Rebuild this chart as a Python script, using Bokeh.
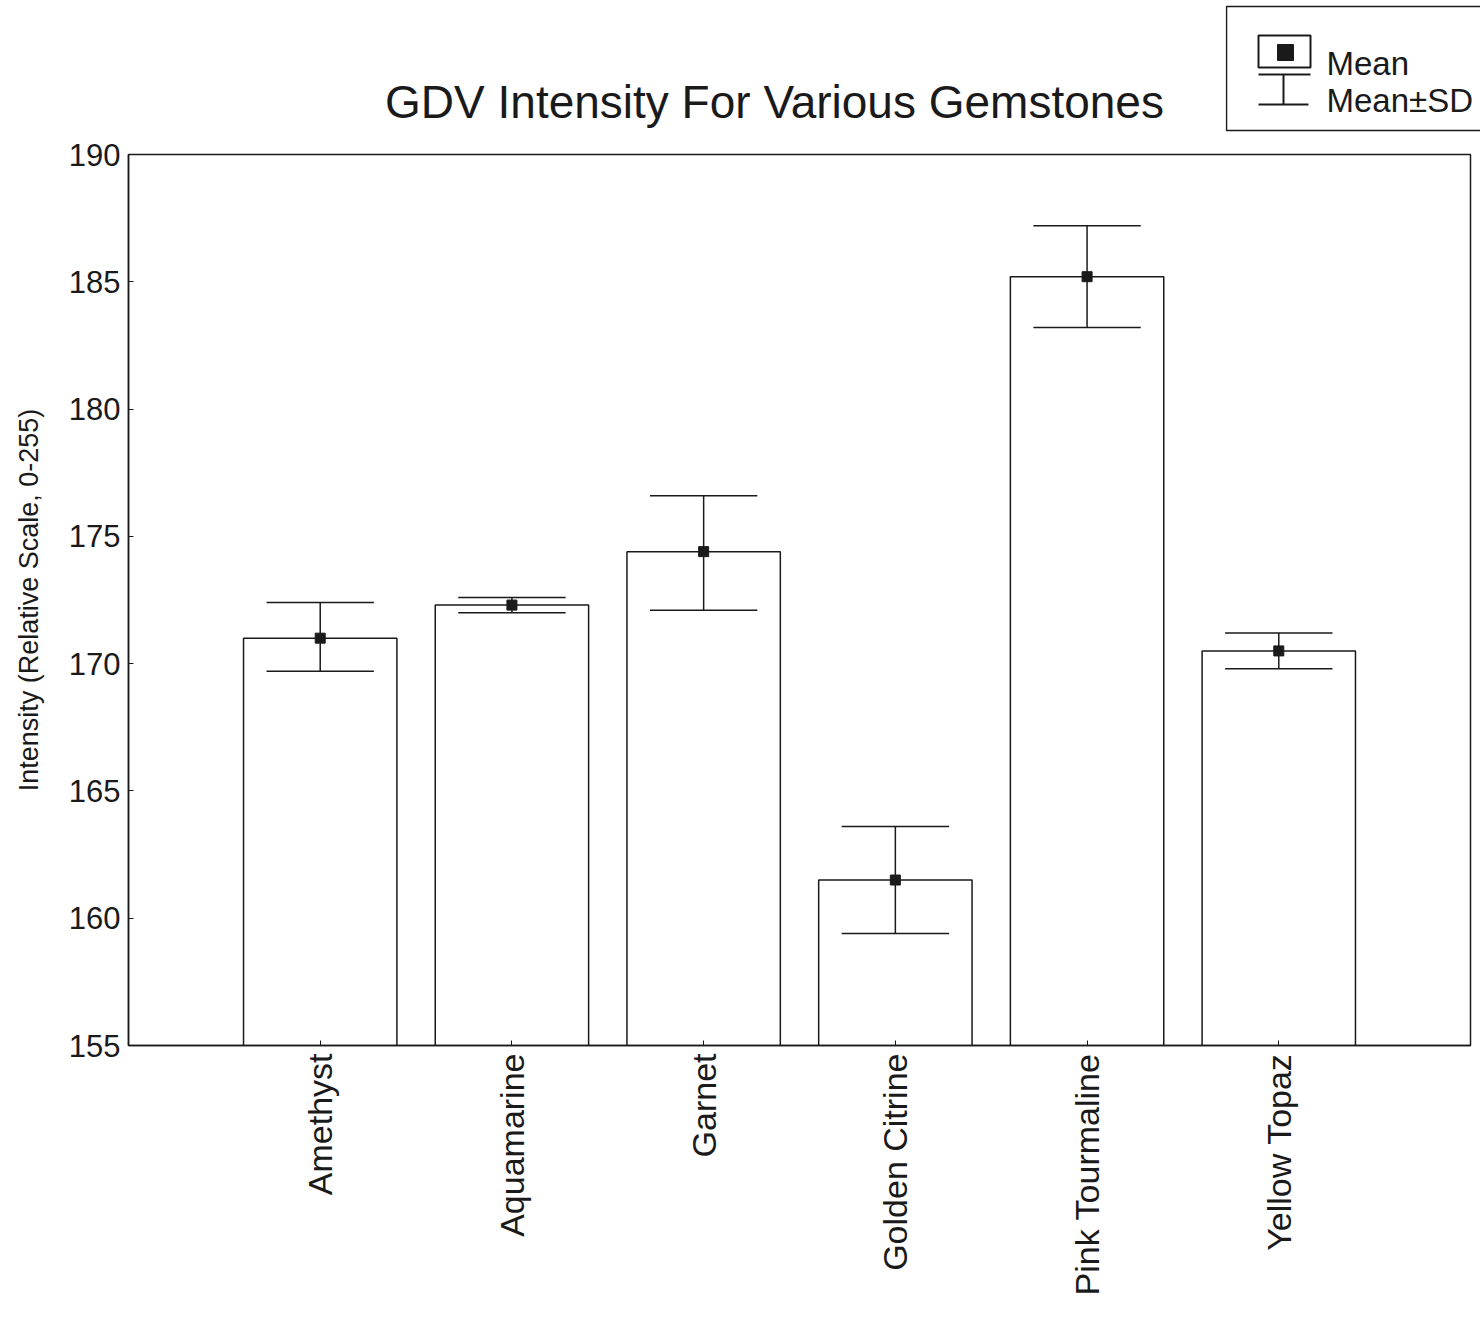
import math
from bokeh.plotting import figure
from bokeh.layouts import column, row
from bokeh.models import FixedTicker, Range1d
from bokeh.embed import file_html
from bokeh.resources import INLINE
from bokeh.core.properties import value

# ---- data ----
gemstones = ["Amethyst", "Aquamarine", "Garnet", "Golden Citrine", "Pink Tourmaline", "Yellow Topaz"]
positions = [1, 2, 3, 4, 5, 6]
mean_values = [171.0, 172.3, 174.4, 161.5, 185.2, 170.5]
sd_upper = [172.4, 172.6, 176.6, 163.6, 187.2, 171.2]
sd_lower = [169.7, 172.0, 172.1, 159.4, 183.2, 169.8]
y_ticks = [155, 160, 165, 170, 175, 180, 185, 190]
legend_labels = ["Mean", "Mean±SD"]
title_text = "GDV Intensity For Various Gemstones"
y_label = "Intensity (Relative Scale, 0-255)"

FONT = "Liberation Sans"
INK = "#1a1a1a"
TOP_H = 132


def blank(width, height):
    f = figure(width=width, height=height, x_range=Range1d(0, width), y_range=Range1d(0, height),
               output_backend="svg", toolbar_location=None,
               min_border=0, min_border_left=0, min_border_right=0,
               min_border_top=0, min_border_bottom=0)
    f.axis.visible = False
    f.grid.visible = False
    f.outline_line_color = None
    f.background_fill_color = "white"
    f.border_fill_color = "white"
    return f


def fy(page_y):
    return TOP_H - page_y


# ---- title strip ----
t = blank(1225, TOP_H)
t.text(x=[774], y=[fy(101)], text=[title_text], text_align="center", text_baseline="middle",
       text_font=value(FONT), text_font_size="46px", text_color=INK)

# ---- legend strip (cut by the right edge, as in the reference) ----
lg = blank(255, TOP_H)
lg.quad(left=[1], right=[400], top=[fy(6)], bottom=[fy(130)],
        fill_alpha=0, line_color=INK, line_width=1.5)
lg.quad(left=[33], right=[85], top=[fy(35)], bottom=[fy(67)],
        fill_alpha=0, line_color=INK, line_width=2)
lg.quad(left=[52], right=[68], top=[fy(44)], bottom=[fy(60)],
        fill_color=INK, line_color=INK)
lg.segment(x0=[33, 58, 33], y0=[fy(74), fy(74), fy(104)],
           x1=[85, 58, 83], y1=[fy(74), fy(104), fy(104)],
           line_color=INK, line_width=2)
lg.text(x=[101, 101], y=[fy(63), fy(100)], text=legend_labels,
        text_align="left", text_baseline="alphabetic",
        text_font=value(FONT), text_font_size="33px", text_color=INK)

# ---- main chart ----
W, H = 1480, 1324 - TOP_H
p = figure(width=W, height=H, x_range=Range1d(0, 7), y_range=Range1d(155, 190),
           output_backend="svg", toolbar_location=None,
           min_border_left=128, min_border_right=10, min_border_top=154 - TOP_H, min_border_bottom=279)

p.background_fill_color = "white"
p.border_fill_color = "white"
p.outline_line_color = INK
p.outline_line_width = 1.5
p.xgrid.visible = False
p.ygrid.visible = False

# bars
p.vbar(x=positions, bottom=155, top=mean_values, width=0.8,
       fill_color="white", line_color=INK, line_width=1.5)
# error bars
cap = 0.28
p.segment(x0=positions, y0=sd_lower, x1=positions, y1=sd_upper, line_color=INK, line_width=1.5)
p.segment(x0=[x - cap for x in positions], y0=sd_upper, x1=[x + cap for x in positions], y1=sd_upper,
          line_color=INK, line_width=1.5)
p.segment(x0=[x - cap for x in positions], y0=sd_lower, x1=[x + cap for x in positions], y1=sd_lower,
          line_color=INK, line_width=1.5)
# means
p.scatter(x=positions, y=mean_values, marker="square", size=10, fill_color=INK, line_color=INK)

# axes
p.yaxis.ticker = FixedTicker(ticks=y_ticks)
p.yaxis.axis_label = y_label
p.yaxis.axis_label_text_font = FONT
p.yaxis.axis_label_text_font_size = "27px"
p.yaxis.axis_label_text_font_style = "normal"
p.yaxis.axis_label_text_color = INK
p.yaxis.axis_label_standoff = 22

p.xaxis.ticker = FixedTicker(ticks=positions)
p.xaxis.major_label_overrides = {x: name for x, name in zip(positions, gemstones)}
p.xaxis.major_label_orientation = math.pi / 2

for ax in (p.xaxis, p.yaxis):
    ax.axis_line_color = INK
    ax.axis_line_width = 1.5
    ax.major_tick_in = 5
    ax.major_tick_out = 0
    ax.major_tick_line_color = INK
    ax.minor_tick_line_color = None
    ax.major_label_text_font = FONT
    ax.major_label_text_color = INK
    ax.major_label_standoff = 8
p.yaxis.major_label_text_font_size = "31px"
p.xaxis.major_label_text_font_size = "34px"

layout = column(row(t, lg, spacing=0), p, spacing=0)
open("out.html", "w").write(file_html(layout, INLINE))
